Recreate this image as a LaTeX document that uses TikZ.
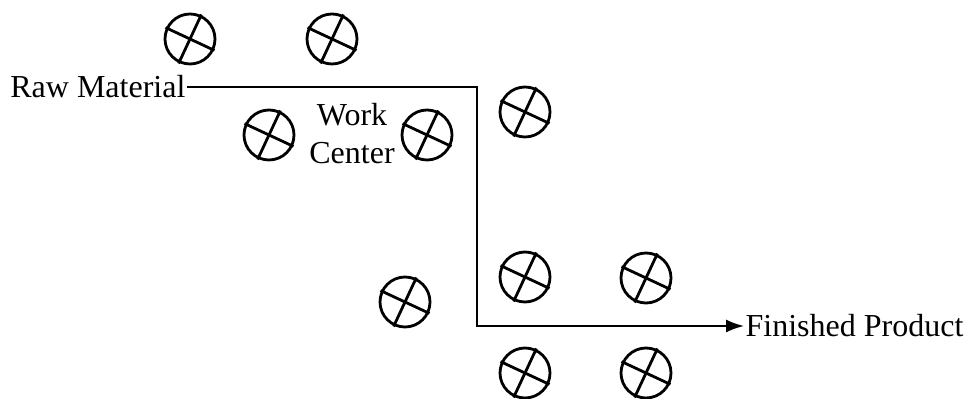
\documentclass[tikz,border=0pt]{standalone}
\usepackage{fontspec}
\setmainfont{Liberation Serif}
\usepackage{tikz}
\usetikzlibrary{arrows.meta,positioning}

\tikzset{
  machine/.style={circle, draw, line width=1.4pt, minimum size=25pt, inner sep=0pt, outer sep=0pt},
  machinebar/.style={line width=1.4pt},
  flow/.style={line width=1pt},
  label/.style={font=\fontsize{16}{19}\selectfont, inner sep=0.6pt}
}

\begin{document}
\begin{tikzpicture}[x=0.5pt, y=-0.5pt]
    \useasboundingbox (0,0) rectangle (967,399);

    % Work centers
    \foreach \n/\x/\y in {1/190/39, 2/332/39, 3/269/135, 4/427/135, 5/525/112,
                          6/405/302, 7/525/277, 8/646/278, 9/525/373, 10/646/373} {
      \node[machine] (wc\n) at (\x,\y) {};
      \draw[machinebar] ([shift={(155:13.5pt)}]wc\n.center) -- ([shift={(-25:13.5pt)}]wc\n.center);
      \draw[machinebar] ([shift={(65:13.5pt)}]wc\n.center) -- ([shift={(245:13.5pt)}]wc\n.center);
    }

    % Labels
    \node[label, anchor=east] (raw) at (187,87) {Raw Material};
    \node[label, anchor=west] (fin) at (744,326) {Finished Product};
    \node[label, align=center] (center) at (352,134) {Work\\Center};

    % Material flow
    \coordinate (turn) at (477,200);
    \draw[flow, -{Latex[length=9pt, width=6.5pt]}] (raw.east) -| (turn) |- (fin.west);
  \end{tikzpicture}
\end{document}
